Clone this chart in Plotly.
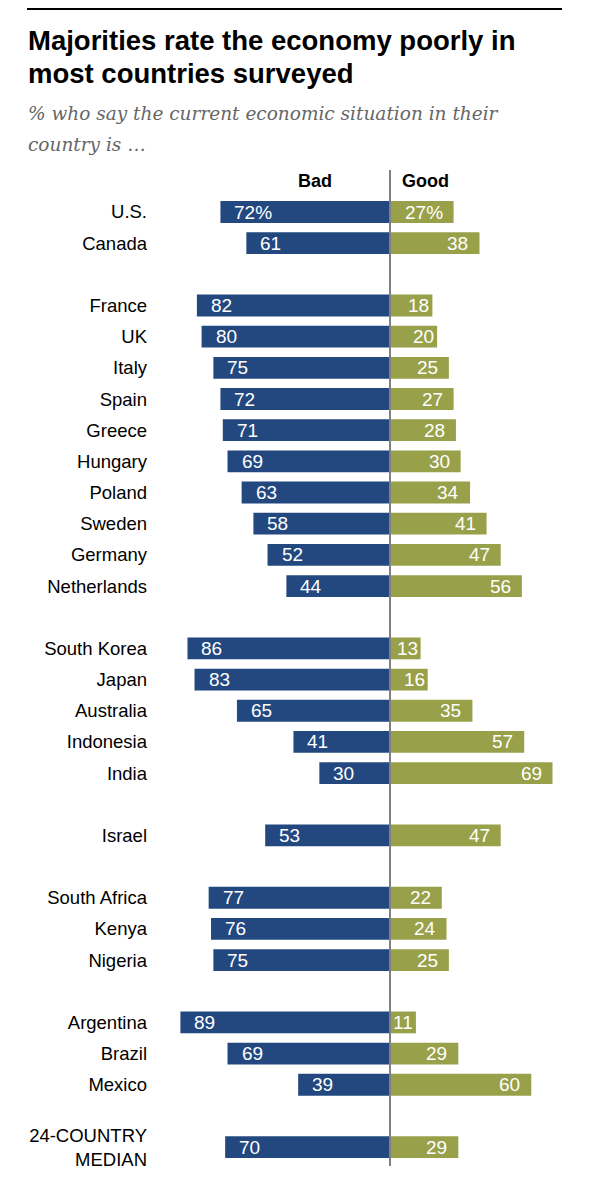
import plotly.graph_objects as go

# ---- data ----
countries = ["U.S.", "Canada",
             "France", "UK", "Italy", "Spain", "Greece", "Hungary", "Poland", "Sweden", "Germany", "Netherlands",
             "South Korea", "Japan", "Australia", "Indonesia", "India",
             "Israel",
             "South Africa", "Kenya", "Nigeria",
             "Argentina", "Brazil", "Mexico",
             "24-COUNTRY<br>MEDIAN"]
bad = [72, 61, 82, 80, 75, 72, 71, 69, 63, 58, 52, 44, 86, 83, 65, 41, 30, 53, 77, 76, 75, 89, 69, 39, 70]
good = [27, 38, 18, 20, 25, 27, 28, 30, 34, 41, 47, 56, 13, 16, 35, 57, 69, 47, 22, 24, 25, 11, 29, 60, 29]
group_sizes = [2, 10, 5, 1, 3, 3, 1]

title_lines = ["Majorities rate the economy poorly in", "most countries surveyed"]
subtitle_lines = ["% who say the current economic situation in their", "country is \u2026"]

BLUE = "#22487f"
GREEN = "#98a14a"

# slot positions with blank slot between groups
pos = []
s = 0
for g in group_sizes:
    for _ in range(g):
        pos.append(s)
        s += 1
    s += 1

# page offset (body margin)
OX, OY = 8, 8
W_FIG, H_FIG = 587, 1184
L, R, T, B = 152, 25, 157, 32
PW = W_FIG - L - R
PH = H_FIG - T - B

def px(x):
    return (x - OX - L) / PW

def py(y):
    return (T + PH - (y - OY)) / PH

SLOT = 31.17
UNIT = 2.355
CENTER = 390
FIRST = 212

bad_text = [f"{v}%" if i == 0 else str(v) for i, v in enumerate(bad)]
good_text = [f"{v}%" if i == 0 else str(v) for i, v in enumerate(good)]

fig = go.Figure()
fig.add_trace(go.Bar(y=pos, x=[-v for v in bad], orientation="h", width=0.7,
                     marker=dict(color=BLUE, line=dict(width=0)), hoverinfo="skip", showlegend=False))
fig.add_trace(go.Bar(y=pos, x=good, orientation="h", width=0.7,
                     marker=dict(color=GREEN, line=dict(width=0)), hoverinfo="skip", showlegend=False))

ann = []
lab_font = dict(family="Liberation Sans, Arial, sans-serif", size=19, color="white")
for p, b, g, bt, gt in zip(pos, bad, good, bad_text, good_text):
    ann.append(dict(x=-b, y=p, xref="x", yref="y", text=bt, showarrow=False,
                    xanchor="left", xshift=12, font=lab_font))
    ann.append(dict(x=g, y=p, xref="x", yref="y", text=gt, showarrow=False,
                    xanchor="right", xshift=-9 if g > 20 else -1, font=lab_font))

# headers
hdr_font = dict(family="Liberation Sans, Arial, sans-serif", size=18, color="black")
ann.append(dict(x=(315 - CENTER) / UNIT, y=-1, xref="x", yref="y", text="<b>Bad</b>", showarrow=False, font=hdr_font))
ann.append(dict(x=(425 - CENTER) / UNIT, y=-1, xref="x", yref="y", text="<b>Good</b>", showarrow=False, font=hdr_font))

# title and subtitle
for line, yy in zip(title_lines, [40, 73]):
    ann.append(dict(x=px(26), y=py(yy), xref="paper", yref="paper", text=f"<b>{line}</b>",
                    showarrow=False, xanchor="left", yanchor="middle",
                    font=dict(family="Liberation Sans, Arial, sans-serif", size=27.5, color="black")))
for line, yy in zip(subtitle_lines, [114, 144]):
    ann.append(dict(x=px(26), y=py(yy), xref="paper", yref="paper", text=f"<i>{line}</i>",
                    showarrow=False, xanchor="left", yanchor="middle",
                    font=dict(family="DejaVu Serif, Georgia, serif", size=18.5, color="#666666")))

ymin = -(FIRST - OY - T) / SLOT
ymax = ymin + PH / SLOT
xl = -(CENTER - OX - L) / UNIT
xr = xl + PW / UNIT

fig.update_layout(
    width=W_FIG, height=H_FIG,
    margin=dict(l=L, r=R, t=T, b=B),
    paper_bgcolor="white", plot_bgcolor="white",
    barmode="overlay",
    xaxis=dict(range=[xl, xr], visible=False, fixedrange=True),
    yaxis=dict(range=[ymax, ymin], tickmode="array", tickvals=pos, ticktext=countries,
               showgrid=False, zeroline=False, showline=False, ticks="",
               ticklabelstandoff=12,
               tickfont=dict(family="Liberation Sans, Arial, sans-serif", size=18.5, color="black")),
    annotations=ann,
    shapes=[
        dict(type="line", xref="x", yref="paper", x0=0, x1=0, y0=py(1166), y1=py(170),
             line=dict(color="#808080", width=2), layer="above"),
        dict(type="line", xref="paper", yref="paper", x0=px(27), x1=px(562), y0=py(9), y1=py(9),
             line=dict(color="black", width=2)),
    ],
)

fig.write_html("out.html")
